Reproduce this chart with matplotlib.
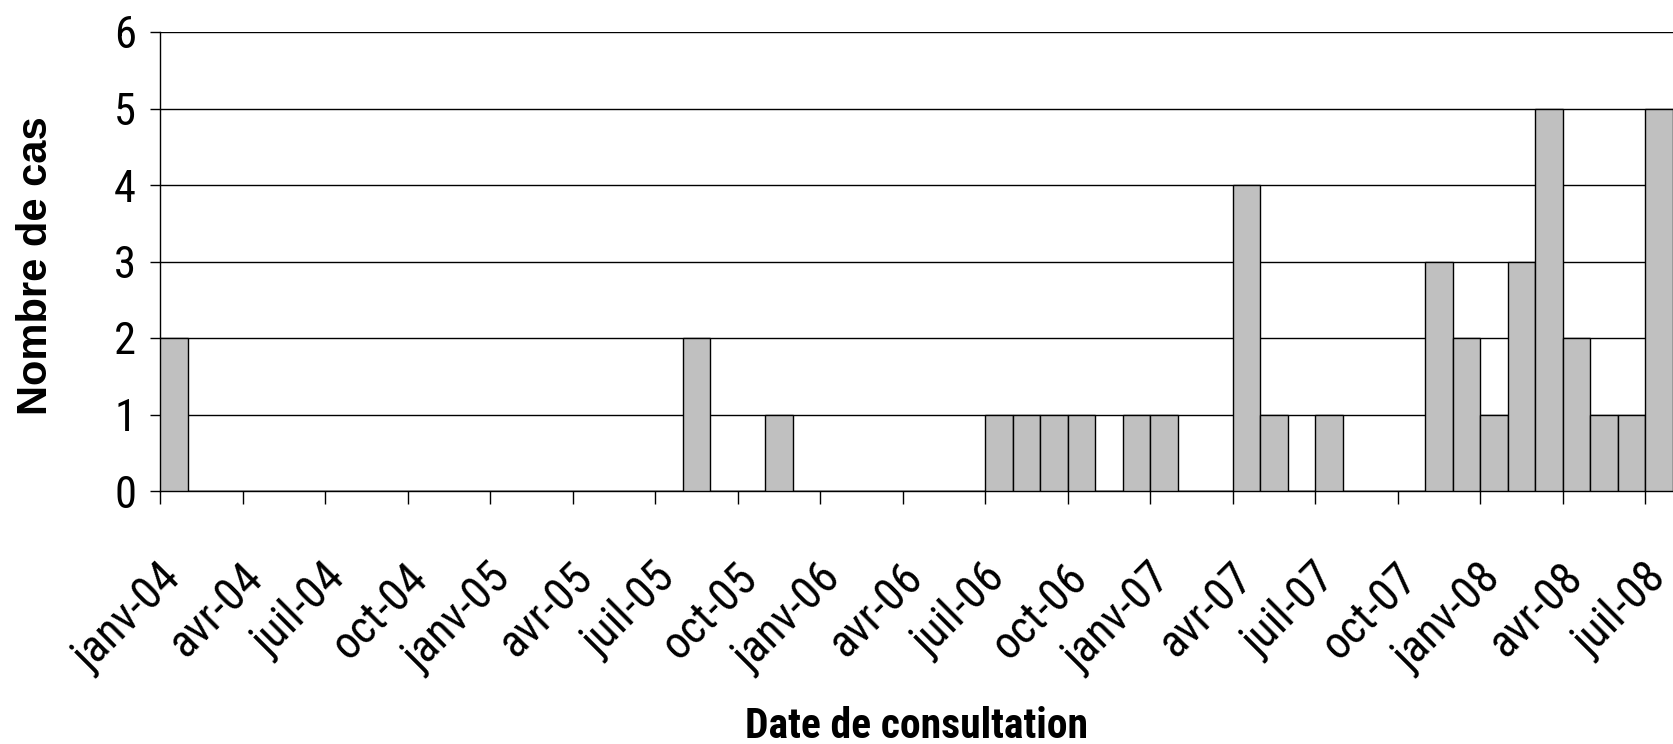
import matplotlib
matplotlib.use("Agg")
import matplotlib.pyplot as plt
from matplotlib import font_manager as fm
from matplotlib.transforms import ScaledTranslation
import numpy as np

# ---- data ----
month_labels = ["janv", "févr", "mars", "avr", "mai", "juin",
                "juil", "août", "sept", "oct", "nov", "déc"]
years = ["04", "05", "06", "07", "08"]
n_months = 55  # janv-04 .. juil-08
cases = [2, 0, 0, 0, 0, 0, 0, 0, 0, 0, 0, 0,      # 2004
         0, 0, 0, 0, 0, 0, 0, 2, 0, 0, 1, 0,      # 2005
         0, 0, 0, 0, 0, 0, 1, 1, 1, 1, 0, 1,      # 2006
         1, 0, 0, 4, 1, 0, 1, 0, 0, 0, 3, 2,      # 2007
         1, 3, 5, 2, 1, 1, 5]                     # 2008
tick_step = 3
y_ticks = [0, 1, 2, 3, 4, 5, 6]
xlabel = "Date de consultation"
ylabel = "Nombre de cas"

# ---- fonts ----
ents = fm.fontManager.ttflist
names = {f.name for f in ents}
prefs = ["Liberation Sans Narrow", "Arial Narrow", "Roboto Condensed", "Archivo Narrow",
         "PT Sans Narrow", "IBM Plex Sans Condensed"]
narrow = next((p for p in prefs if p in names), "Liberation Sans")
bold_narrow = next((p for p in prefs
                    if any(f.name == p and (f.weight in (700, "bold")) for f in ents)),
                   narrow)
regular = "Liberation Sans" if "Liberation Sans" in names else "DejaVu Sans"

fig = plt.figure(figsize=(16.73, 7.44), dpi=100)
ax = fig.add_axes([160/1673, 253/744, 1513/1673, 459/744])

x = np.arange(n_months) + 0.5
ax.bar(x, cases, width=1.0, color="#C0C0C0", edgecolor="black", linewidth=1.0, zorder=3)

ax.set_xlim(0, n_months)
ax.set_ylim(0, 6)
ax.set_yticks(y_ticks)
ax.yaxis.grid(True, color="black", linewidth=1.0, zorder=0)
ax.set_axisbelow(True)

tick_pos = np.arange(0, n_months, tick_step)
tick_lab = [f"{month_labels[p % 12]}-{years[p // 12]}" for p in tick_pos]
ax.set_xticks(tick_pos)
ax.set_xticklabels(tick_lab, rotation=45, rotation_mode="anchor",
                   ha="right", va="center", fontsize=33, family=narrow)
ax.tick_params(axis="x", length=9.4, width=1.0, direction="out", pad=48, color="black")
ax.tick_params(axis="y", length=7.2, width=1.0, direction="out", pad=10, color="black",
               labelsize=32)
for lab in ax.get_yticklabels():
    lab.set_family(narrow)
off = ScaledTranslation(13/100, 0, fig.dpi_scale_trans)
for lab in ax.get_xticklabels():
    lab.set_transform(lab.get_transform() + off)

for s in ["top", "right"]:
    ax.spines[s].set_visible(False)
for s in ["left", "bottom"]:
    ax.spines[s].set_color("black")
    ax.spines[s].set_linewidth(1.0)

ax.set_xlabel(xlabel, fontsize=30, fontweight="bold", family=bold_narrow)
ax.xaxis.set_label_coords(0.5, -0.512)
ax.xaxis.label.set_va("center")
ax.set_ylabel(ylabel, fontsize=30, fontweight="bold", family=regular)
ax.yaxis.set_label_coords(-0.082, 0.492)
ax.yaxis.label.set_va("center")

fig.savefig("out.png", dpi=100)
